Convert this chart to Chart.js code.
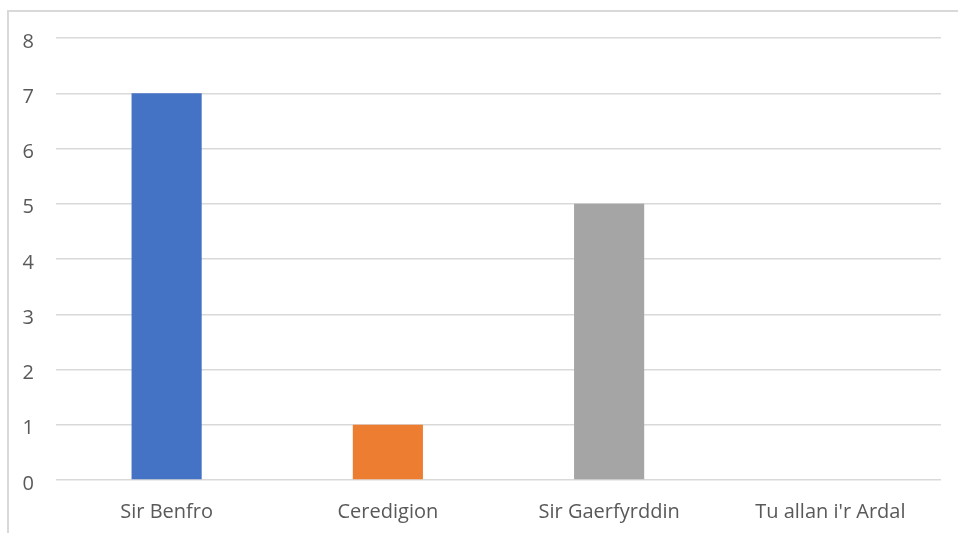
<!DOCTYPE html>
<html>
<head>
<meta charset="utf-8">
<script src="https://cdn.jsdelivr.net/npm/chart.js@4.4.0/dist/chart.umd.min.js"></script>
<style>
  html, body { margin: 0; padding: 0; background: #fff; overflow: hidden; }
  #wrap { position: relative; width: 958px; height: 533px; }
  #frame { position: absolute; left: 7px; top: 10px; width: 1000px; height: 600px; border: 2px solid #d9d9d9; box-sizing: border-box; }
  canvas { position: absolute; left: 0; top: 0; }
</style>
</head>
<body>
<div id="wrap">
  <div id="frame"></div>
  <canvas id="chart" width="958" height="533"></canvas>
</div>
<script>
// --- DATA ---
const categories = ["Sir Benfro", "Ceredigion", "Sir Gaerfyrddin", "Tu allan i'r Ardal"];
const counts = [7, 1, 5, 0];
const barColors = ["#4472c4", "#ed7d31", "#a5a5a5", "#ffc000"];
const yTicks = [0, 1, 2, 3, 4, 5, 6, 7, 8];

const FONT = "'Open Sans', 'Noto Sans', sans-serif";

const ctx = document.getElementById("chart");
new Chart(ctx.getContext("2d"), {
  type: "bar",
  data: {
    labels: categories,
    datasets: [{ data: counts, backgroundColor: barColors, barPercentage: 0.317, categoryPercentage: 1 }]
  },
  options: {
    responsive: false, animation: false,
    layout: { padding: { top: 38, right: 17, left: 0, bottom: 0 } },
    plugins: { legend: { display: false }, tooltip: { enabled: false } },
    scales: {
      y: {
        min: 0, max: 8,
        afterFit: s => { s.width = 56; },
        afterBuildTicks: s => { s.ticks = yTicks.map(v => ({ value: v })); },
        grid: { color: "#d9d9d9", lineWidth: 1.5, drawTicks: false },
        border: { display: false },
        ticks: { color: "#595959", padding: 22, labelOffset: 4, font: { family: FONT, size: 20 } }
      },
      x: {
        afterFit: s => { s.height = 53; },
        grid: { display: false, drawTicks: false },
        border: { display: false },
        ticks: { color: "#595959", padding: 20, font: { family: FONT, size: 20 } }
      }
    }
  }
});
</script>
</body>
</html>
